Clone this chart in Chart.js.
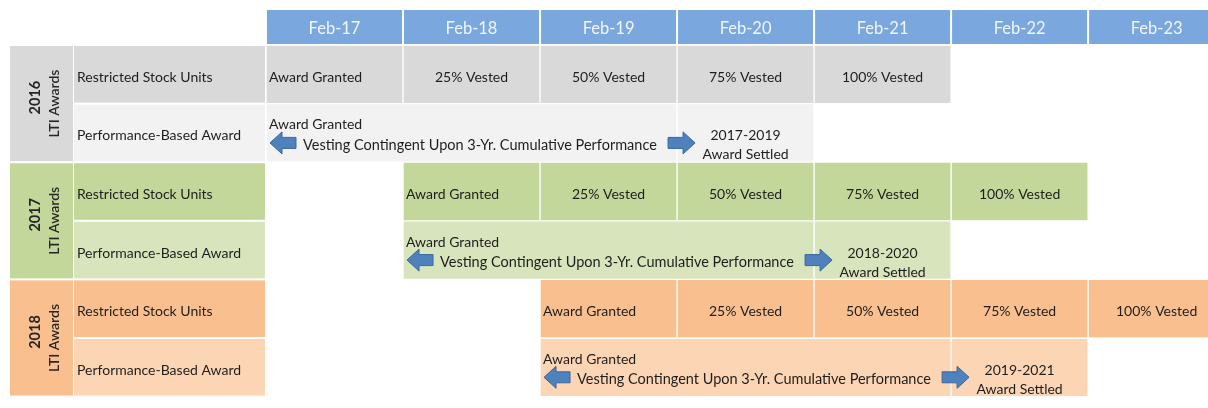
<!DOCTYPE html>
<html lang="en">
<head>
<meta charset="UTF-8">
<title>LTI Award Vesting Timeline</title>
<script src="https://cdn.jsdelivr.net/npm/chart.js@4.4.0/dist/chart.umd.min.js"></script>
<style>
  html, body { margin: 0; padding: 0; background: #ffffff; overflow: hidden; }
  #wrap { width: 1208px; height: 408px; position: relative; }
</style>
</head>
<body>
<div id="wrap"><canvas id="ltiChart"></canvas></div>

<script>
// ---- data ----
const columns = ['Feb-17', 'Feb-18', 'Feb-19', 'Feb-20', 'Feb-21', 'Feb-22', 'Feb-23'];
const awardYears = ['2016', '2017', '2018'];
const awardTypes = ['Restricted Stock Units', 'Performance-Based Award'];
const grantColumn = [0, 1, 2];            // column index where each year's award is granted
const rsuMilestones = ['Award Granted', '25% Vested', '50% Vested', '75% Vested', '100% Vested'];
const pbaPeriodYears = 3;
const pbaSettled = ['2017-2019', '2018-2020', '2019-2021'];
const pbaText = 'Vesting Contingent Upon 3-Yr. Cumulative Performance';

// ---- colours ----
const rsuColors = ['#d9d9d9', '#c4d79b', '#fabf8f'];
const pbaColors = ['#f2f2f2', '#d8e4bc', '#fcd5b4'];
const headerBlue = '#7aa8de';
const FONT = 'Lato, "Open Sans", sans-serif';

const rowLabels = awardYears.flatMap(y => awardTypes.map(t => y + ' ' + t));
const rowColors = rowLabels.map((_, i) => (i % 2 ? pbaColors : rsuColors)[Math.floor(i / 2)]);

// floating [start, end] ranges, only on rows of the given award type
function rowsFor(typeIndex, fromOffset, toOffset) {
  return rowLabels.map((_, i) => {
    if (i % 2 !== typeIndex) return null;
    const g = grantColumn[Math.floor(i / 2)];
    return [g + fromOffset, g + toOffset];
  });
}

const datasets = rsuMilestones.map((m, k) => ({
  label: m, kind: 'rsu', step: k,
  data: rowsFor(0, k, k + 1)
}));
datasets.push({ label: 'Performance period', kind: 'pba', data: rowsFor(1, 0, pbaPeriodYears) });
datasets.push({ label: 'Award settled', kind: 'settle', data: rowsFor(1, pbaPeriodYears, pbaPeriodYears + 1) });
datasets.forEach(ds => {
  ds.backgroundColor = rowColors;
  ds.borderColor = '#ffffff';
  ds.borderWidth = 1;
  ds.borderSkipped = false;
  ds.grouped = false;
  ds.barPercentage = 1;
  ds.categoryPercentage = 1;
});

function blockArrow(ctx, x0, x1, cy, dir) {
  const w = x1 - x0, h = 22, shaft = 11, head = 12;
  ctx.save();
  ctx.translate(dir > 0 ? x0 : x1, cy);
  ctx.scale(dir, 1);
  ctx.beginPath();
  ctx.moveTo(0, -shaft / 2);
  ctx.lineTo(w - head, -shaft / 2);
  ctx.lineTo(w - head, -h / 2);
  ctx.lineTo(w, 0);
  ctx.lineTo(w - head, h / 2);
  ctx.lineTo(w - head, shaft / 2);
  ctx.lineTo(0, shaft / 2);
  ctx.closePath();
  ctx.fillStyle = '#4f81bd';
  ctx.fill();
  ctx.strokeStyle = '#3a679e';
  ctx.lineWidth = 1;
  ctx.stroke();
  ctx.restore();
}

// header band, label column and year column behind the axes
const tableBackground = {
  id: 'tableBackground',
  beforeDraw(chart) {
    const ctx = chart.ctx;
    const xs = chart.scales.x, ys = chart.scales.y;
    const rowH = ys.getPixelForValue(1) - ys.getPixelForValue(0);
    ctx.save();
    ctx.fillStyle = headerBlue;
    columns.forEach((c, i) => {
      const x0 = xs.getPixelForValue(i), x1 = xs.getPixelForValue(i + 1);
      ctx.fillRect(x0 + 1, 10, x1 - x0 - 2, 34);
    });
    rowLabels.forEach((r, i) => {
      const top = ys.getPixelForValue(i) - rowH / 2;
      ctx.fillStyle = rowColors[i];
      ctx.fillRect(74, top + 1, 191, rowH - 2);
    });
    awardYears.forEach((y, g) => {
      const top = ys.getPixelForValue(g * 2) - rowH / 2;
      const bottom = ys.getPixelForValue(g * 2 + 1) + rowH / 2;
      ctx.fillStyle = rsuColors[g];
      ctx.fillRect(10, top + 1, 63, bottom - top - 2);
      ctx.save();
      ctx.translate(43, (top + bottom) / 2);
      ctx.rotate(-Math.PI / 2);
      ctx.fillStyle = '#262626';
      ctx.textAlign = 'center';
      ctx.textBaseline = 'middle';
      ctx.font = 'bold 14.5px ' + FONT;
      ctx.fillText(y, 6, -8);
      ctx.font = '600 14px ' + FONT;
      ctx.fillText('LTI Awards', 0, 11);
      ctx.restore();
    });
    ctx.restore();
  }
};

// text and arrows inside the cells
const cellText = {
  id: 'cellText',
  afterDatasetsDraw(chart) {
    const ctx = chart.ctx;
    const small = '14px ' + FONT;
    ctx.save();
    ctx.fillStyle = '#1e1e1e';
    ctx.textBaseline = 'middle';
    ctx.font = small;
    chart.data.datasets.forEach((ds, di) => {
      const meta = chart.getDatasetMeta(di);
      meta.data.forEach((bar, i) => {
        if (ds.data[i] == null) return;
        const { x, y, base } = bar.getProps(['x', 'y', 'base'], true);
        const g = Math.floor(i / 2);
        if (ds.kind === 'rsu') {
          if (ds.step === 0) {
            ctx.textAlign = 'left';
            ctx.fillText(rsuMilestones[0], base + 3, y + 3);
          } else {
            ctx.textAlign = 'center';
            ctx.fillText(rsuMilestones[ds.step], (base + x) / 2, y + 3);
          }
        } else if (ds.kind === 'pba') {
          ctx.textAlign = 'left';
          ctx.fillText('Award Granted', base + 3, y - 8);
          blockArrow(ctx, base + 4, base + 30, y + 10, -1);
          ctx.font = '14.5px ' + FONT;
          ctx.fillText(pbaText, base + 37, y + 12);
          ctx.font = small;
        } else {
          blockArrow(ctx, base - 9, base + 18, y + 10, 1);
          ctx.textAlign = 'center';
          ctx.fillText(pbaSettled[g], (base + x) / 2, y + 3);
          ctx.fillText('Award Settled', (base + x) / 2, y + 22);
        }
      });
    });
    ctx.restore();
  }
};

new Chart(document.getElementById('ltiChart'), {
  type: 'bar',
  data: { labels: rowLabels, datasets: datasets },
  options: {
    indexAxis: 'y',
    responsive: true,
    maintainAspectRatio: false,
    animation: false,
    layout: { padding: { left: 77, top: 10, right: 0, bottom: 0 } },
    plugins: { legend: { display: false }, tooltip: { enabled: false } },
    scales: {
      x: {
        type: 'linear',
        position: 'top',
        min: 0,
        max: 6.875,   // Feb-23 column is cut off at the right edge
        grid: { display: false, drawTicks: false },
        border: { display: false },
        afterFit: s => { s.height = 35; },
        afterBuildTicks: s => { s.ticks = columns.map((c, i) => ({ value: i + 0.5 })); },
        ticks: {
          autoSkip: false,
          maxRotation: 0,
          padding: 6,
          color: '#f2f6fc',
          font: { family: FONT, size: 16.5 },
          callback: v => columns[Math.floor(v)]
        }
      },
      y: {
        type: 'category',
        grid: { display: false, drawTicks: false },
        border: { display: false },
        afterFit: s => { s.width = 189; },
        ticks: {
          crossAlign: 'far',
          labelOffset: 3,
          color: '#1e1e1e',
          font: { family: FONT, size: 14 },
          callback: (v, i) => awardTypes[i % 2]
        }
      }
    }
  },
  plugins: [tableBackground, cellText]
});
</script>
</body>
</html>
